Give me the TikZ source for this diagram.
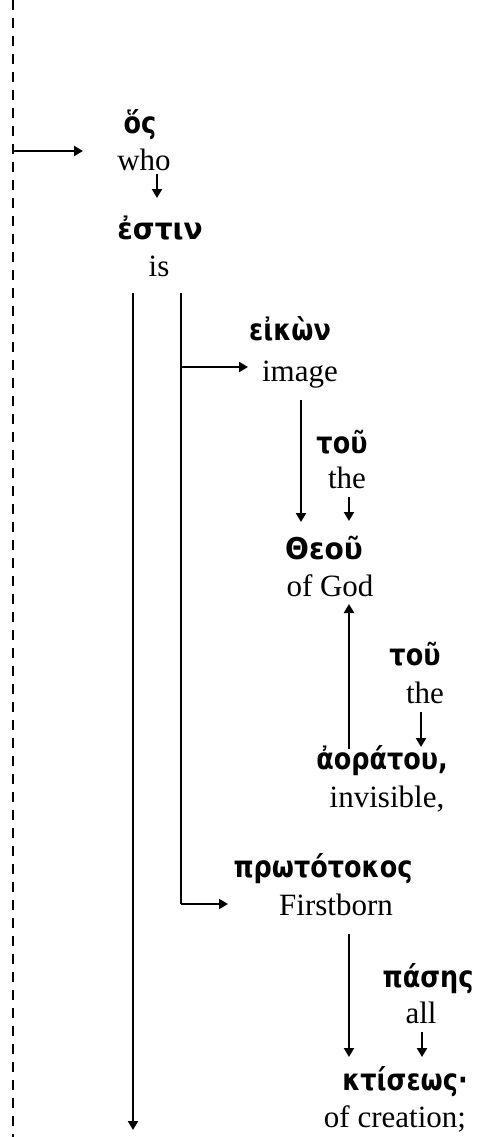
\documentclass[tikz,border=0pt]{standalone}
\usepackage{fontspec}
\usepackage{graphicx}
\setmainfont{Liberation Serif}
\newfontfamily\gk{DejaVu Sans Bold}[FakeStretch=0.85]
\usetikzlibrary{arrows.meta}
\begin{document}
\begin{tikzpicture}[x=1pt,y=-1pt,
  en/.style={inner sep=0pt,anchor=base,font=\fontsize{31}{36}\selectfont},
  gr/.style={inner sep=0pt,anchor=base,font=\gk\fontsize{30}{36}\selectfont},
  arr/.style={line width=2pt,-{Triangle[length=9pt,width=10pt]}},
  ln/.style={line width=2pt},
  dashline/.style={line width=2.6pt,dash pattern=on 10pt off 8pt}]
\useasboundingbox (0,0) rectangle (478,1137);
% words
\node[gr] (os) at (140,133) {ὅς};
\node[en] (who) at (144,170) {who};
\node[gr] (estin) at (160,239) {\scalebox{1.1}[1]{ἐστιν}};
\node[en] (is) at (159,276) {is};
\node[gr] (eikon) at (290,340) {εἰκὼν};
\node[en] (image) at (300,381) {image};
\node[gr] (tou1) at (342,453) {τοῦ};
\node[en] (the1) at (347,488) {the};
\node[gr] (theou) at (324,559) {\scalebox{1.1}[1]{Θεοῦ}};
\node[en] (ofgod) at (330,596) {of God};
\node[gr] (tou2) at (415,665) {τοῦ};
\node[en] (the2) at (425,703) {the};
\node[gr] (aoratou) at (382,769) {ἀοράτου,};
\node[en] (invisible) at (387,807) {invisible,};
\node[gr] (prototokos) at (323,877) {πρωτότοκος};
\node[en] (firstborn) at (336,915) {Firstborn};
\node[gr] (pases) at (428,987) {πάσης};
\node[en] (all) at (421,1023) {all};
\node[gr] (ktiseos) at (405,1090) {κτίσεως·};
\node[en] (ofcreation) at (395,1127) {of creation;};
% connector points
\coordinate (dtop) at (13,0);
\coordinate (dbot) at (13,1137);
\coordinate (dbr) at (13,151);
\coordinate (osin) at (83,151);
\coordinate (w1) at (157,174);
\coordinate (w2) at (157,198);
\coordinate (ls) at (133,293);
\coordinate (le) at (133,1130);
\coordinate (rs) at (181,293);
\coordinate (rc) at (181,904);
\coordinate (rb) at (181,367);
\coordinate (eikin) at (248,367);
\coordinate (protin) at (228,904);
\coordinate (i1) at (301,400);
\coordinate (i2) at (301,522);
\coordinate (t1a) at (349,497);
\coordinate (t1b) at (349,521);
\coordinate (ao1) at (349,749);
\coordinate (ao2) at (349,604);
\coordinate (t2a) at (421,712);
\coordinate (t2b) at (421,747);
\coordinate (f1) at (349,934);
\coordinate (f2) at (349,1057);
\coordinate (p1) at (422,1032);
\coordinate (p2) at (422,1057);
% connectors
\draw[dashline] (dtop) -- (dbot);
\draw[arr] (dbr) -- (osin);
\draw[arr] (w1) -- (w2);
\draw[arr] (ls) -- (le);
\draw[ln] (rs) -- (rc);
\draw[arr] (rb) -- (eikin);
\draw[arr] (rc) -- (protin);
\draw[arr] (i1) -- (i2);
\draw[arr] (t1a) -- (t1b);
\draw[arr] (ao1) -- (ao2);
\draw[arr] (t2a) -- (t2b);
\draw[arr] (f1) -- (f2);
\draw[arr] (p1) -- (p2);
\end{tikzpicture}
\end{document}
